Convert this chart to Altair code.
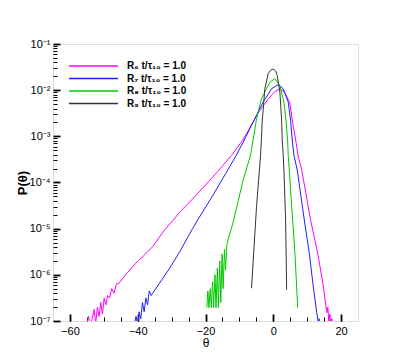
import altair as alt
import pandas as pd

# Values: theta and log10 P(theta)
r6_theta = [-55.0, -54.5, -54.0, -53.4, -52.9, -52.4, -51.9, -51.4, -50.9, -50.4, -49.9, -49.4,
            -48.9, -48.3, -47.7, -47.0, -46.3, -45.5, -43.0, -40.6, -38.0, -35.6, -32.1, -29.7,
            -27.6, -24.0, -20.8, -16.5, -12.3, -9.0, -7.9, -4.0, -1.0, 0.5, 1.95, 3.4, 4.9,
            5.6, 6.6, 7.3, 8.4, 11.0, 13.1, 14.8, 15.8, 16.1, 16.4, 16.7, 17.0, 17.3, 17.5]
r6_log10p = [-7.05, -6.9, -7.1, -6.95, -6.75, -7.05, -6.7, -6.9, -6.6, -6.85, -6.5, -6.65,
             -6.45, -6.5, -6.3, -6.4, -6.2, -6.18, -5.95, -5.75, -5.57, -5.39, -5.03, -4.83,
             -4.64, -4.37, -4.12, -3.77, -3.41, -3.08, -2.94, -2.44, -2.15, -2.03, -1.97, -2.05, -2.28,
             -2.65, -3.08, -3.41, -3.73, -4.81, -5.53, -6.26, -6.82, -6.7, -7.05, -6.85, -7.1, -6.95, -7.1]

r7_theta = [-41.0, -40.5, -40.0, -39.6, -39.1, -38.6, -38.1, -37.6, -37.1, -36.6, -36.0, -35.6,
            -30.7, -27.6, -24.6, -22.3, -18.0, -14.0, -10.9, -8.0, -6.9, -3.0, -0.5, 1.45, 2.93,
            4.41, 5.1, 5.6, 6.1, 7.07, 9.15, 10.63, 11.81, 12.82, 13.0, 13.3, 13.5, 13.8]
r7_log10p = [-7.05, -6.9, -7.1, -6.8, -6.95, -6.6, -6.8, -6.5, -6.65, -6.35, -6.45, -6.4,
             -5.87, -5.5, -5.1, -4.81, -4.3, -3.8, -3.41, -3.0, -2.83, -2.26, -1.97, -1.88, -1.97,
             -2.26, -2.65, -3.08, -3.41, -3.73, -4.81, -5.53, -6.26, -6.82, -6.9, -7.05, -6.95, -7.1]

r8_theta = [-19.6, -19.3, -19.0, -18.6, -18.3, -17.9, -17.6, -17.2, -16.9, -16.5, -16.2, -15.8,
            -15.5, -15.1, -14.8, -14.4, -14.1, -13.7, -13.35, -11.9, -8.9, -6.72, -5.95, -4.94,
            -3.46, -1.01, 0.47, 1.95, 3.14, 3.73, 4.23, 4.41, 4.71, 5.71, 6.39, 6.9, 7.19]
r8_log10p = [-6.71, -6.35, -6.71, -6.3, -6.71, -6.15, -6.71, -6.0, -6.71, -5.85, -6.71, -5.7,
             -6.6, -5.55, -6.3, -5.45, -5.9, -5.35, -5.24, -4.88, -3.95, -3.41, -3.08, -2.62,
             -2.18, -1.83, -1.75, -1.9, -2.26, -2.65, -3.08, -3.41, -3.73, -4.81, -5.53, -6.26, -6.71]

r9_theta = [-6.42, -4.94, -3.76, -3.5, -3.28, -2.49, -1.51, -0.8, -0.03, 0.77, 1.15, 1.95,
            2.46, 2.64, 2.93, 3.14, 3.64, 3.94]
r9_log10p = [-6.29, -4.52, -3.41, -3.08, -2.69, -1.97, -1.64, -1.57, -1.54, -1.59, -1.68, -2.04,
             -2.65, -3.08, -3.41, -3.73, -4.81, -6.32]

series_labels = ["R\u2086 t/\u03c4\u2081\u2080 = 1.0", "R\u2087 t/\u03c4\u2081\u2080 = 1.0",
                 "R\u2088 t/\u03c4\u2081\u2080 = 1.0", "R\u2089 t/\u03c4\u2081\u2080 = 1.0"]
series_colors = ["#ff00ff", "#2020ff", "#00c800", "#333333"]

x_major = [-60, -40, -20, 0, 20]
x_minor = [-60, -55, -50, -45, -40, -35, -30, -25, -20, -15, -10, -5, 0, 5, 10, 15, 20]
y_major = [1e-7, 1e-6, 1e-5, 1e-4, 1e-3, 1e-2, 1e-1]
y_minor = [k * m for m in [1e-7, 1e-6, 1e-5, 1e-4, 1e-3, 1e-2] for k in range(2, 10)]

rows = []
for lab, xs, ls in zip(series_labels, [r6_theta, r7_theta, r8_theta, r9_theta],
                       [r6_log10p, r7_log10p, r8_log10p, r9_log10p]):
    for i, (x, l) in enumerate(zip(xs, ls)):
        rows.append({"series": lab, "theta": x, "p": 10 ** l, "idx": i})
df = pd.DataFrame(rows)

FONT = "Liberation Sans"
x_scale = alt.Scale(domain=[-65, 25], nice=False, zero=False)
y_scale = alt.Scale(type="log", domain=[1e-7, 1e-1], nice=False)

label_expr = ("datum.value > 0.05 ? '10\u207b\u00b9' : datum.value > 0.005 ? '10\u207b\u00b2' : "
              "datum.value > 0.0005 ? '10\u207b\u00b3' : datum.value > 0.00005 ? '10\u207b\u2074' : "
              "datum.value > 0.000005 ? '10\u207b\u2075' : datum.value > 0.0000005 ? '10\u207b\u2076' : "
              "'10\u207b\u2077'")

base = alt.Chart(df)

lines = base.mark_line(strokeWidth=1, clip=True).encode(
    x=alt.X("theta:Q", scale=x_scale,
            axis=alt.Axis(values=x_major, title="\u03b8", orient="bottom", offset=-7, tickSize=7,
                          tickWidth=1.8, tickColor="black", domain=False, grid=False, labelPadding=4,
                          labelFont=FONT, labelFontSize=11, labelColor="black",
                          titleFont=FONT, titleFontSize=12, titleFontWeight="normal",
                          titleColor="black", titleY=28, titleBaseline="middle")),
    y=alt.Y("p:Q", scale=y_scale,
            axis=alt.Axis(values=y_major, labelExpr=label_expr, title="P(\u03b8)", orient="left",
                          offset=-7, tickSize=7, tickWidth=1.8, tickColor="black", domain=False,
                          grid=False, labelPadding=3, labelFont=FONT, labelFontSize=11,
                          labelColor="black", titleFont=FONT, titleFontSize=13,
                          titleFontWeight="bold", titleColor="black", titleX=-38,
                          titleBaseline="middle")),
    color=alt.Color("series:N", scale=alt.Scale(domain=series_labels, range=series_colors),
                    legend=alt.Legend(title=None, orient="none", legendX=34.5, legendY=16,
                                      symbolType="M-4.9,0H4.9", symbolSize=100,
                                      symbolStrokeWidth=1.4, symbolOpacity=1,
                                      labelOffset=27.5, labelFont=FONT, labelFontSize=10,
                                      labelFontWeight="bold", labelColor="black",
                                      rowPadding=1.5, padding=0, labelLimit=300)),
    order="idx:Q",
)

minor = base.mark_line(opacity=0).encode(
    x=alt.X("theta:Q", scale=x_scale,
            axis=alt.Axis(values=x_minor, labels=False, title=None, orient="bottom", offset=-4,
                          tickSize=4, tickWidth=1, tickColor="black", domain=False, grid=False)),
    y=alt.Y("p:Q", scale=y_scale,
            axis=alt.Axis(values=y_minor, labels=False, title=None, orient="left", offset=-4,
                          tickSize=4, tickWidth=1, tickColor="black", domain=False, grid=False)),
)

chart = alt.layer(lines, minor).resolve_axis(x="independent", y="independent").properties(
    width=305, height=277,
    padding={"left": 45, "top": 36, "right": 30, "bottom": 40},
    autosize=alt.AutoSizeParams(type="none"),
).configure_view(stroke="black", strokeWidth=2).configure(background="white")

chart.save("out.html", embed_options={"renderer": "svg", "actions": False})
